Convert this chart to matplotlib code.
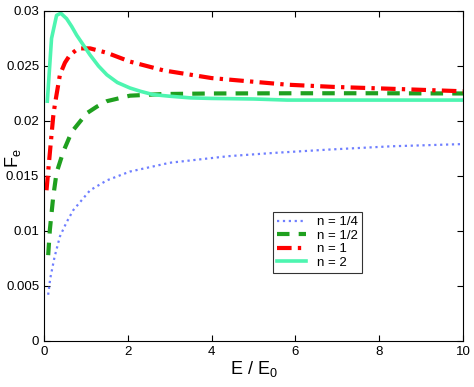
import numpy as np
import matplotlib
matplotlib.use("Agg")
import matplotlib.pyplot as plt

plt.rcParams['font.family'] = ['Liberation Sans', 'DejaVu Sans']
plt.rcParams['mathtext.fontset'] = 'custom'
plt.rcParams['mathtext.rm'] = 'Liberation Sans'
plt.rcParams['mathtext.it'] = 'Liberation Sans'

# values
x_q = [0.1, 0.15, 0.25, 0.38, 0.54, 0.7, 1.1, 1.5, 2.05, 3.0, 4.4, 5.5, 6.8, 8.3, 10]
f_q = [0.0042, 0.0057, 0.0076, 0.0095, 0.0108, 0.0119, 0.0137, 0.0146, 0.0154, 0.0162, 0.0168, 0.0171, 0.0174, 0.0177, 0.0179]

x_h = [0.1, 0.14, 0.22, 0.3, 0.46, 0.66, 1.02, 1.26, 1.5, 2.05, 2.85, 4.0, 6.0, 8.0, 10]
f_h = [0.0078, 0.0101, 0.0131, 0.0153, 0.0172, 0.019, 0.0207, 0.0213, 0.0218, 0.0223, 0.02245, 0.0225, 0.02252, 0.02252, 0.0225]

x_1 = [0.06, 0.14, 0.22, 0.26, 0.38, 0.5, 0.62, 0.82, 1.1, 1.5, 2.05, 2.85, 4.0, 5.8, 6.9, 8.5, 10]
f_1 = [0.0137, 0.0171, 0.0204, 0.0215, 0.0242, 0.0253, 0.026, 0.0266, 0.0266, 0.0262, 0.0254, 0.0246, 0.0239, 0.0233, 0.0231, 0.0229, 0.0227]

x_2 = [0.08, 0.18, 0.3, 0.4, 0.54, 0.66, 0.78, 0.94, 1.1, 1.3, 1.5, 1.75, 2.05, 2.3, 2.6, 3.0, 3.5, 4.0, 5.0, 5.8, 8.0, 10]
f_2 = [0.0218, 0.0275, 0.0296, 0.0298, 0.0293, 0.0286, 0.0278, 0.0269, 0.0260, 0.0250, 0.0242, 0.0235, 0.0230, 0.0227, 0.0224, 0.02225, 0.0221, 0.02205, 0.0220, 0.0219, 0.0219, 0.0219]

labels = ['n = 1/4', 'n = 1/2', 'n = 1', 'n = 2']

fig = plt.figure(figsize=(4.74, 3.87), dpi=100)
ax = fig.add_axes([0.0928, 0.119, 0.8842, 0.8526])

ax.plot(x_q, f_q, ':', color='#6f7fff', lw=1.6, label=labels[0])
ax.plot(x_h, f_h, '--', color='#1fa01f', lw=3, dashes=(3, 2.2), label=labels[1])
ax.plot(x_1, f_1, '-.', color='#ff0000', lw=3, dashes=(3.5, 1.5, 0.8, 1.5), label=labels[2])
ax.plot(x_2, f_2, '-', color='#4df5b0', lw=2.6, label=labels[3])

ax.set_xlim(0, 10)
ax.set_ylim(0, 0.03)
ax.set_xticks([0, 2, 4, 6, 8, 10])
ax.set_yticks([0, 0.005, 0.01, 0.015, 0.02, 0.025, 0.03])
ax.set_yticklabels(['0', '0.005', '0.01', '0.015', '0.02', '0.025', '0.03'])
ax.tick_params(direction='in', top=True, right=True, labelsize=9.5, length=4)
ax.set_xlabel('E / E$_0$', fontsize=13, labelpad=1)
ax.set_ylabel('F$_e$', fontsize=13)
ax.yaxis.set_label_coords(-0.05, 0.555)

leg = ax.legend(loc='lower left', bbox_to_anchor=(0.547, 0.206), fontsize=9.5,
                frameon=True, fancybox=False, edgecolor='black', handlelength=2.2,
                borderpad=0.3, labelspacing=0.1, handletextpad=0.8, borderaxespad=0)
leg.get_frame().set_linewidth(0.8)

plt.savefig('out.png', dpi=100)
